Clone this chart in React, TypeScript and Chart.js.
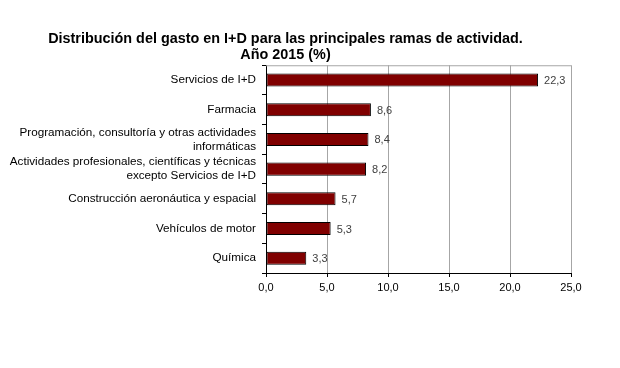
import React, { useEffect, useRef } from "react";
import { Chart, registerables } from "chart.js";

Chart.register(...registerables);

const categories: (string | string[])[] = [
  "Servicios de I+D",
  "Farmacia",
  ["Programación, consultoría y otras actividades", "informáticas"],
  ["Actividades profesionales, científicas y técnicas", "excepto Servicios de I+D"],
  "Construcción aeronáutica y espacial",
  "Vehículos de motor",
  "Química",
];
const values = [22.3, 8.6, 8.4, 8.2, 5.7, 5.3, 3.3];
const xTickLabels = ["0,0", "5,0", "10,0", "15,0", "20,0", "25,0"];
const titleLines = [
  "Distribución del gasto en I+D para las principales ramas de actividad.",
  "Año 2015 (%)",
];

const FONT = "'Liberation Sans', Arial, sans-serif";

const fmt = (v: number) => v.toFixed(1).replace(".", ",");

const valueLabels = {
  id: "valueLabels",
  afterDatasetsDraw(chart: any) {
    const ctx = chart.ctx;
    const meta = chart.getDatasetMeta(0);
    ctx.save();
    ctx.font = `11px ${FONT}`;
    ctx.fillStyle = "#404040";
    ctx.textAlign = "left";
    ctx.textBaseline = "middle";
    meta.data.forEach((el: any, i: number) => {
      ctx.fillText(fmt(values[i]), el.x + 6, el.y + 1);
    });
    ctx.restore();
  },
};

const topBorder = {
  id: "topBorder",
  beforeDatasetsDraw(chart: any) {
    const { ctx, chartArea } = chart;
    ctx.save();
    ctx.strokeStyle = "#a6a6a6";
    ctx.lineWidth = 1;
    ctx.beginPath();
    ctx.moveTo(chartArea.left, chartArea.top + 0.5);
    ctx.lineTo(chartArea.right, chartArea.top + 0.5);
    ctx.stroke();
    ctx.restore();
  },
};

export default function App() {
  const ref = useRef<HTMLCanvasElement | null>(null);
  useEffect(() => {
    if (!ref.current) return;
    const chart = new Chart(ref.current, {
      type: "bar",
      data: {
        labels: categories,
        datasets: [
          {
            data: values,
            backgroundColor: "#800000",
            borderColor: "#000000",
            borderWidth: 1,
            borderSkipped: false,
            categoryPercentage: 1,
            barPercentage: 0.44,
          },
        ],
      },
      options: {
        indexAxis: "y",
        animation: false,
        responsive: false,
        maintainAspectRatio: false,
        layout: { padding: { left: 0, right: 49, top: 0, bottom: 65 } },
        plugins: {
          legend: { display: false },
          tooltip: { enabled: false },
          title: {
            display: true,
            text: titleLines,
            color: "#000000",
            font: { family: FONT, size: 14.4, weight: "bold", lineHeight: 1.12 },
            padding: { top: 31, bottom: 2 },
          },
        },
        scales: {
          x: {
            min: 0,
            max: 25,
            ticks: {
              stepSize: 5,
              color: "#000000",
              font: { family: FONT, size: 11 },
              padding: 4,
              callback: (_v: any, i: number) => xTickLabels[i],
            },
            grid: { color: "#a6a6a6", tickColor: "#000000", tickLength: 4, drawTicks: true },
            border: { color: "#000000" },
            afterFit: (s: any) => {
              s.height = 30;
            },
          },
          y: {
            ticks: {
              autoSkip: false,
              color: "#000000",
              font: { family: FONT, size: 11.7, lineHeight: 1.18 },
              padding: 6,
            },
            grid: {
              drawOnChartArea: false,
              drawTicks: true,
              tickLength: 4,
              offset: true,
              tickColor: "#000000",
            },
            border: { color: "#000000" },
            afterFit: (s: any) => {
              s.width = 266;
            },
          },
        },
      },
      plugins: [valueLabels, topBorder],
    } as any);
    return () => chart.destroy();
  }, []);
  return (
    <div style={{ position: "fixed", left: 0, top: 0, width: 620, height: 368, background: "#fff" }}>
      <canvas ref={ref} width={620} height={368} />
    </div>
  );
}
